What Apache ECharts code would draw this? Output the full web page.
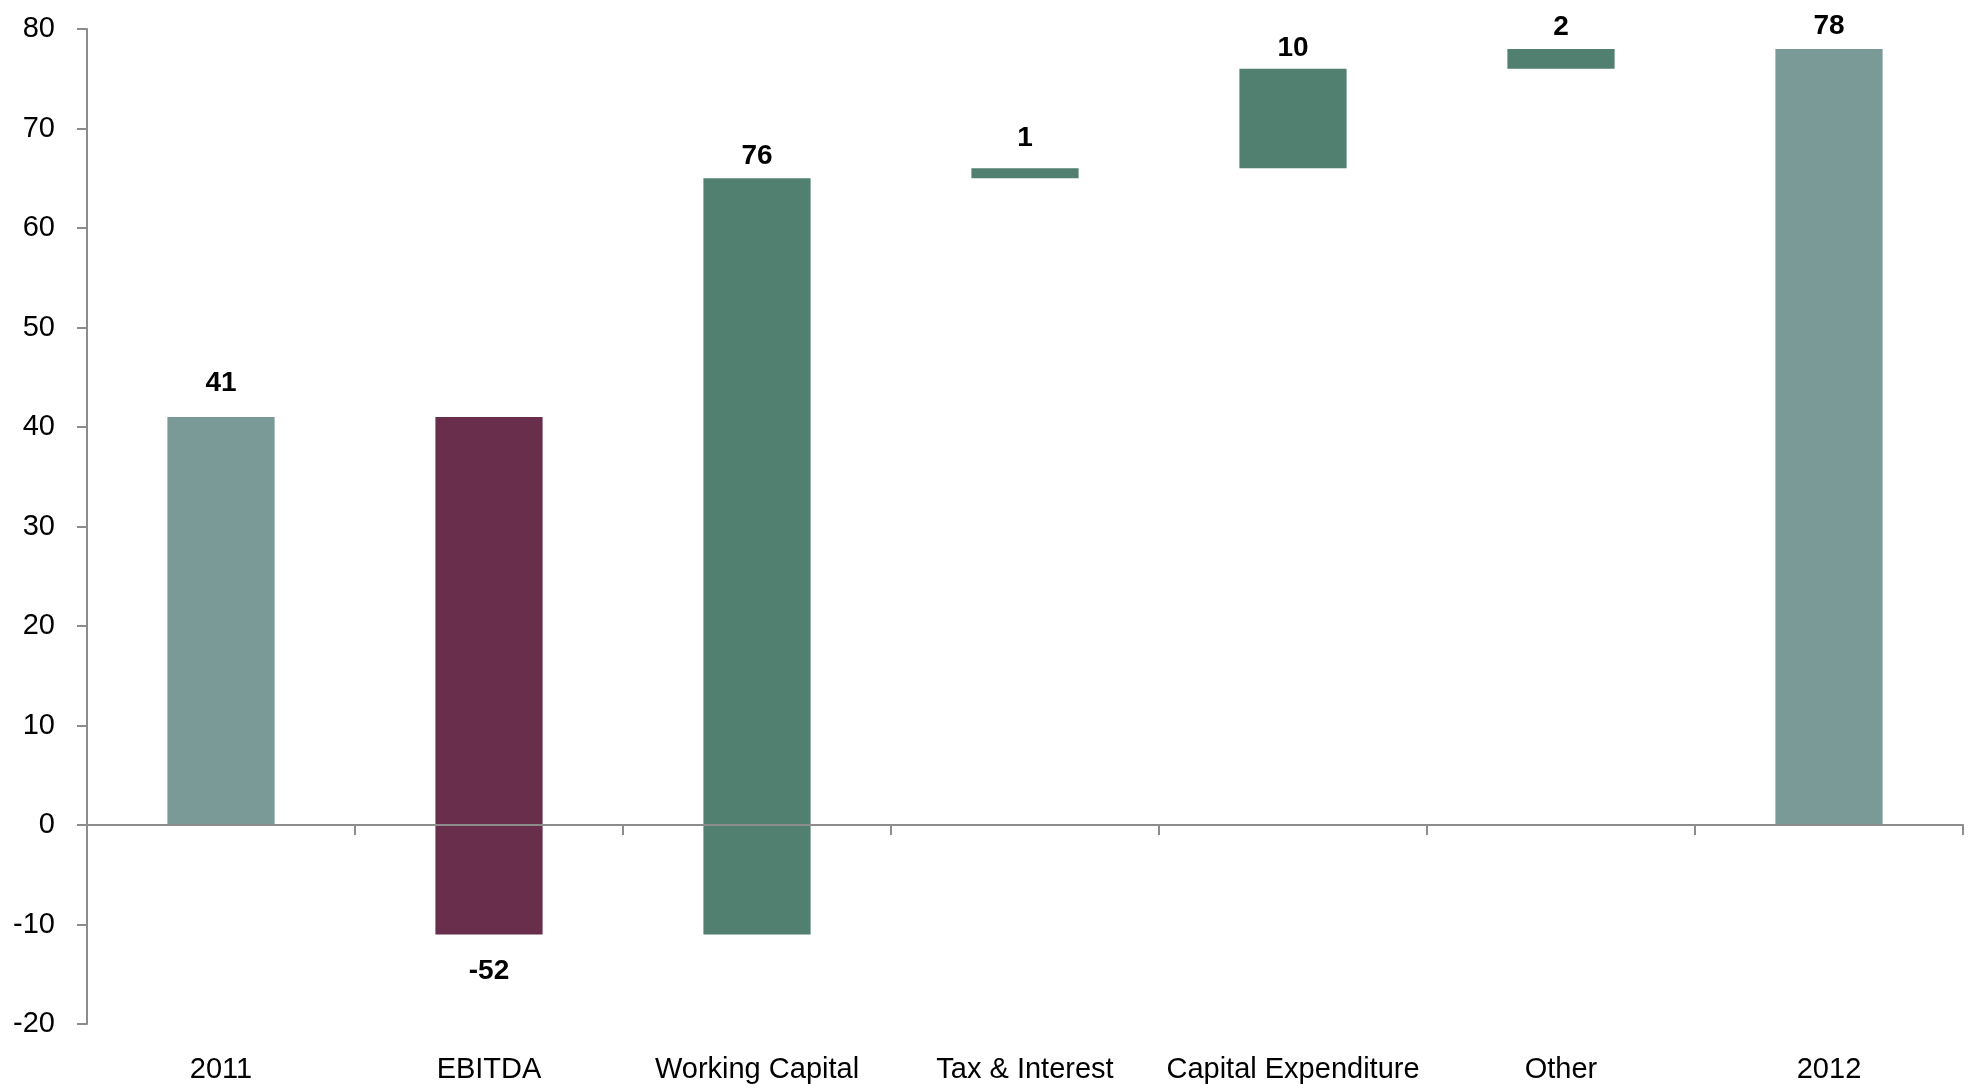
<!DOCTYPE html>
<html>
<head>
<meta charset="utf-8">
<script src="https://cdn.jsdelivr.net/npm/echarts@6/dist/echarts.min.js"></script>
<style>
  html, body { margin: 0; padding: 0; background: #ffffff; }
  #chart { width: 1972px; height: 1090px; }
</style>
</head>
<body>
<div id="chart"></div>
<script>
// Cash bridge 2011 -> 2012
const categories = ['2011', 'EBITDA', 'Working Capital', 'Tax & Interest', 'Capital Expenditure', 'Other', '2012'];
const kinds      = ['total', 'change', 'change', 'change', 'change', 'change', 'total'];
const values     = [41, -52, 76, 1, 10, 2, 78];

// value axis range
const yMin = -20;
const yMax = 80;
const yStep = 10;

// gap between each bar end and its value label (px)
const labelGaps = [20, 23, 8, 16, 7, 8, 9];

const COLORS = { total: '#7a9a97', up: '#517f70', down: '#692e4c' };
const AXIS_GREY = '#8c8c8c';
const FONT = '"Liberation Sans Narrow", "Arial Narrow", "Liberation Sans", Arial, sans-serif';

// Work out the floating segment of each bar from the running total
const lows = [], highs = [];
let running = 0;
values.forEach((v, i) => {
  if (kinds[i] === 'total') {
    lows.push(Math.min(0, v)); highs.push(Math.max(0, v));
    running = v;
  } else {
    const next = running + v;
    lows.push(Math.min(running, next)); highs.push(Math.max(running, next));
    running = next;
  }
});

// Split every segment into an invisible base plus positive / negative stacked parts
const baseData = [], posData = [], negData = [];
categories.forEach((c, i) => {
  const lo = lows[i], hi = highs[i];
  const color = kinds[i] === 'total' ? COLORS.total : (values[i] < 0 ? COLORS.down : COLORS.up);
  if (lo > 0) baseData.push(lo);
  else if (hi < 0) baseData.push(hi);
  else baseData.push('-');

  const showUp = values[i] >= 0;
  if (hi > 0) {
    posData.push({
      value: hi - Math.max(lo, 0),
      itemStyle: { color },
      label: { show: showUp, position: 'top', distance: labelGaps[i] }
    });
  } else posData.push('-');

  if (lo < 0) {
    negData.push({
      value: lo - Math.min(hi, 0),
      itemStyle: { color },
      label: { show: !showUp, position: 'bottom', distance: labelGaps[i] }
    });
  } else negData.push('-');
});

const valueLabel = {
  show: false,
  color: '#000000',
  fontFamily: FONT,
  fontSize: 28,
  fontWeight: 'bold',
  formatter: (p) => String(values[p.dataIndex])
};

const chart = echarts.init(document.getElementById('chart'), null, { renderer: 'canvas' });
chart.setOption({
  backgroundColor: '#ffffff',
  animation: false,
  grid: { left: 87, right: 9, top: 29, bottom: 66, containLabel: false },
  xAxis: [
    {
      // category names along the bottom edge
      type: 'category',
      data: categories,
      position: 'bottom',
      axisLine: { show: false, onZero: false },
      axisTick: { show: false },
      axisLabel: { margin: 31, color: '#000000', fontFamily: FONT, fontSize: 29, interval: 0 },
      splitLine: { show: false }
    },
    {
      // baseline at zero with boundary ticks
      type: 'category',
      data: categories,
      position: 'top',
      z: 5,
      axisLine: { show: true, onZero: true, lineStyle: { color: AXIS_GREY, width: 2 } },
      axisTick: { show: true, inside: true, length: 10, lineStyle: { color: AXIS_GREY, width: 2 } },
      axisLabel: { show: false },
      splitLine: { show: false }
    }
  ],
  yAxis: {
    type: 'value',
    min: yMin,
    max: yMax,
    interval: yStep,
    axisLine: { show: true, onZero: false, lineStyle: { color: AXIS_GREY, width: 2 } },
    axisTick: { show: true, length: 10, lineStyle: { color: AXIS_GREY, width: 2 } },
    axisLabel: { margin: 32, color: '#000000', fontFamily: FONT, fontSize: 29 },
    splitLine: { show: false }
  },
  series: [
    {
      name: 'base', type: 'bar', stack: 'bridge', xAxisIndex: 0,
      barWidth: '40%', data: baseData,
      itemStyle: { color: 'transparent' }, emphasis: { disabled: true }, silent: true
    },
    {
      name: 'up', type: 'bar', stack: 'bridge', xAxisIndex: 0,
      barWidth: '40%', data: posData, label: valueLabel
    },
    {
      name: 'down', type: 'bar', stack: 'bridge', xAxisIndex: 0,
      barWidth: '40%', data: negData, label: valueLabel
    }
  ]
});
</script>
</body>
</html>
